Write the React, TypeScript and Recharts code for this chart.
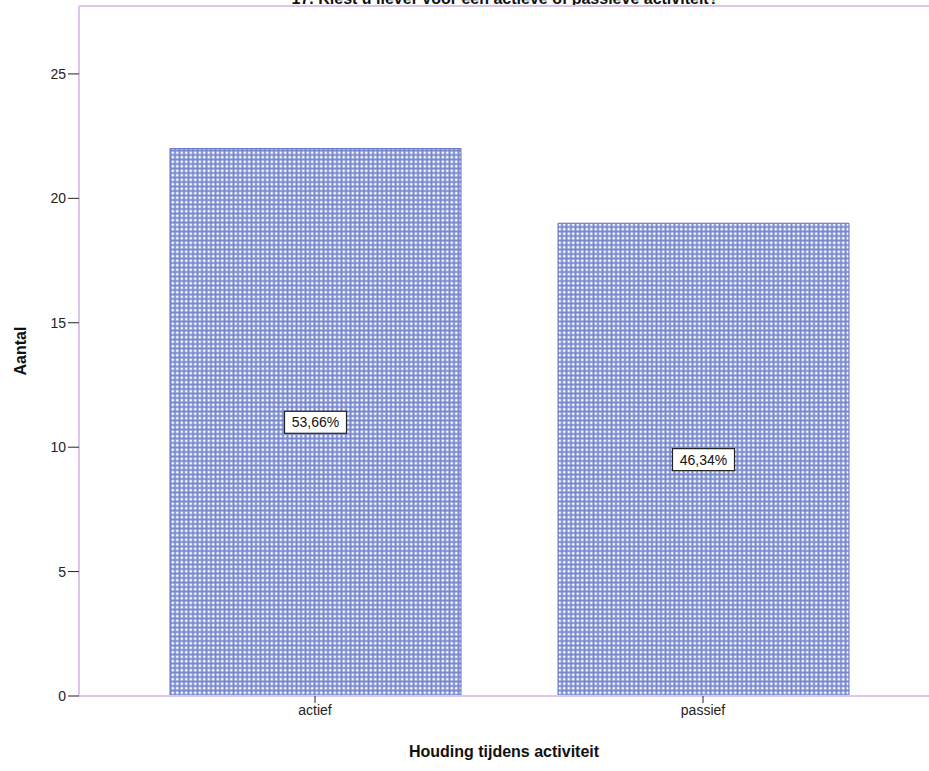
import { BarChart, Bar, XAxis, YAxis, LabelList, Label, ReferenceLine } from "recharts"

const categories = ["actief", "passief"]
const counts = [22, 19]
const percentLabels = ["53,66%", "46,34%"]
const yTicks = [0, 5, 10, 15, 20, 25]

const data = categories.map((c, i) => ({ name: c, count: counts[i], pct: percentLabels[i] }))

const FONT = "'Liberation Sans', Arial, sans-serif"
const AXIS = "#dbc6ec"

function PctBox(props: any) {
  const { x, y, width, height, value } = props
  const cx = x + width / 2
  const cy = y + height / 2
  const w = 62
  const h = 22
  return (
    <g>
      <rect x={cx - w / 2} y={cy - h / 2} width={w} height={h} fill="#fff" stroke="#222" strokeWidth={1.2} />
      <text x={cx} y={cy + 5} textAnchor="middle" fontSize={14} fontFamily={FONT} fill="#111">
        {value}
      </text>
    </g>
  )
}

export default function App() {
  return (
    <div style={{ position: "absolute", left: 0, top: 0, width: 929, height: 771, overflow: "hidden", background: "#fff" }}>
      <div
        style={{
          position: "absolute",
          top: -10,
          left: 0,
          width: 1010,
          textAlign: "center",
          fontFamily: FONT,
          fontWeight: "bold",
          fontSize: 16,
          color: "#111",
        }}
      >
        17. Kiest u liever voor een actieve of passieve activiteit?
      </div>
      <BarChart width={929} height={771} data={data} margin={{ top: 6, right: 0, left: 0, bottom: 0 }}>
        <defs>
          <pattern id="chk" x="170" y="150" width="4.5" height="4.5" patternUnits="userSpaceOnUse">
            <rect x="0" y="0" width="4.5" height="4.5" fill="#7788cd" />
            <rect x="1.5" y="1.5" width="2.5" height="2.5" fill="#ffffff" />
          </pattern>
        </defs>
        <ReferenceLine y={27.73} stroke={AXIS} strokeWidth={2} ifOverflow="extendDomain" />
        <XAxis
          dataKey="name"
          height={75}
          padding={{ left: 42, right: 32 }}
          axisLine={{ stroke: AXIS, strokeWidth: 2 }}
          tickLine={{ stroke: "#222" }}
          tickSize={7}
          tick={{ fill: "#222", fontSize: 14, fontFamily: FONT }}
        >
          <Label
            value="Houding tijdens activiteit"
            position="insideBottom"
            offset={14}
            style={{ fontFamily: FONT, fontWeight: "bold", fontSize: 16, fill: "#111" }}
          />
        </XAxis>
        <YAxis
          width={79}
          domain={[0, 27.73]}
          ticks={yTicks}
          axisLine={{ stroke: AXIS, strokeWidth: 2 }}
          tickLine={{ stroke: "#222" }}
          tickSize={11}
          tick={{ fill: "#222", fontSize: 14, fontFamily: FONT }}
        >
          <Label
            value="Aantal"
            angle={-90}
            position="insideLeft"
            offset={20}
            style={{ fontFamily: FONT, fontWeight: "bold", fontSize: 16, fill: "#111", textAnchor: "middle" }}
          />
        </YAxis>
        <Bar dataKey="count" barSize={291} fill="url(#chk)" stroke="#6274c2" strokeWidth={1} isAnimationActive={false}>
          <LabelList dataKey="pct" content={<PctBox />} />
        </Bar>
      </BarChart>
    </div>
  )
}
